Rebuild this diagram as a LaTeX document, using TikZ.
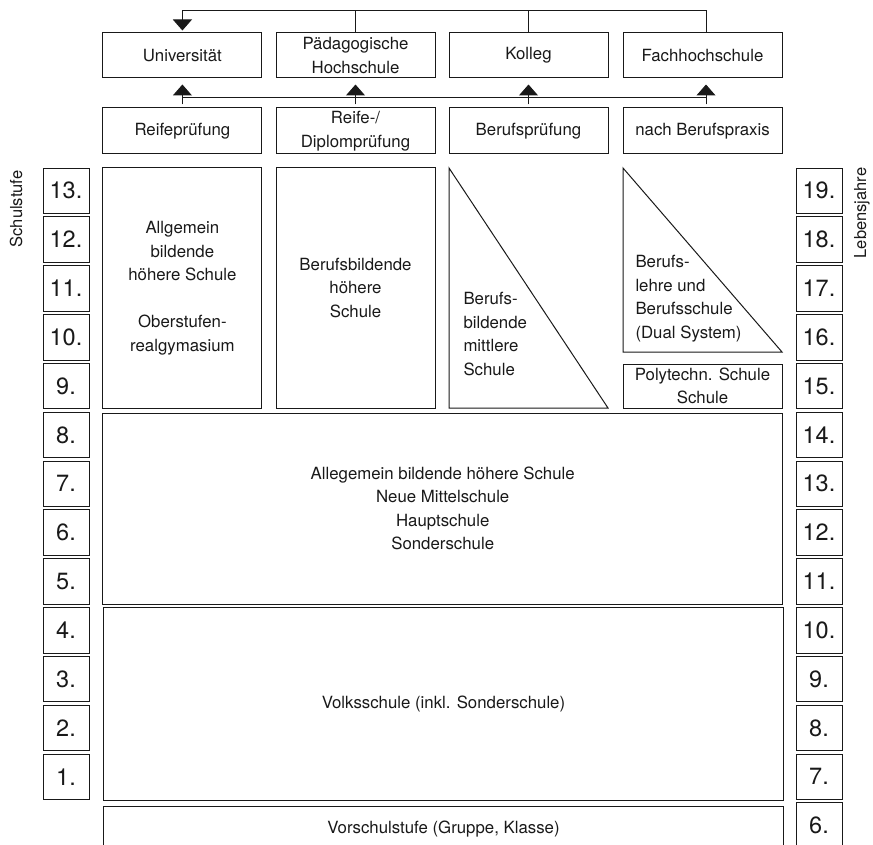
\documentclass[tikz,border=0pt]{standalone}
\usepackage{fontspec}
\setmainfont{TeX Gyre Heros}
\usetikzlibrary{arrows.meta}

\tikzset{kasten/.style = {draw, minimum width = 159pt, minimum height = 45pt,
                          align = center, inner sep = 0pt},
         nummer/.style = {draw, minimum width = 46pt, minimum height = 45.5pt,
                          inner sep = 0pt, font = \fontsize{23.5}{26}\selectfont},
         pfeil/.style = {-{Triangle[width = 19pt, length = 11pt]}}
        }

\begin{document}
\begin{tikzpicture}[x = 1pt, y = -1pt, line width = 1pt, color = black!90,
                    font = \fontsize{16.8}{23.5}\selectfont]
  \useasboundingbox (0, 0) rectangle (873, 845);
  % Hochschulen und Abschluesse
  \node[kasten] (uni) at (182.4, 55.5) {Universität};
  \node[kasten] (pha) at (355.5, 55.5) {Pädagogische\\Hochschule};
  \node[kasten] (kolleg) at (528.5, 55.5) {Kolleg};
  \node[kasten] (fhs) at (702.5, 55.5) {Fachhochschule};
  \node[kasten, minimum height = 46pt] (reife) at (182.4, 131) {Reifeprüfung};
  \node[kasten, minimum height = 46pt] (diplom) at (355.5, 131) {Reife-/\\Diplomprüfung};
  \node[kasten, minimum height = 46pt] (berufpr) at (528.5, 131) {Berufsprüfung};
  \node[kasten, minimum height = 46pt] (praxis) at (702.5, 131) {nach Berufspraxis};
  \coordinate (oben) at (0, 11);
  \coordinate (mitte) at (0, 98);
  \draw[pfeil] ([xshift = 3.5pt]fhs.north) |- (oben -| uni.north) -- ([yshift = 2pt]uni.north);
  \draw (pha.north) -- (pha.north |- oben);
  \draw (kolleg.north) -- (kolleg.north |- oben);
  \draw (reife.north |- mitte) -- ([xshift = 3.5pt]praxis.north |- mitte);
  \foreach \von/\nach in {reife/uni, diplom/pha, berufpr/kolleg}
      {\draw[pfeil] ([yshift = 3pt]\von.north) -- ([yshift = -6pt]\nach.south);};
  \draw[pfeil] ([xshift = 3.5pt, yshift = 3pt]praxis.north) -- ([xshift = 3.5pt, yshift = -6pt]fhs.south);
  % Oberstufe
  \node[kasten, minimum height = 240pt] (ahs) at (182.4, 288)
      {Allgemein\\bildende\\höhere Schule\\[23.5pt]Oberstufen-\\realgymasium};
  \node[kasten, minimum height = 240pt] (bhs) at (355.5, 288)
      {Berufsbildende\\höhere\\Schule};
  \draw (449, 168) -- (449, 408) -- (608, 408) -- cycle;
  \node[align = left, anchor = west, inner sep = 0pt] (bms) at (463, 334)
      {Berufs-\\bildende\\mittlere\\Schule};
  \draw (623, 168) -- (623, 352) -- (782, 352) -- cycle;
  \node[align = left, anchor = west, inner sep = 0pt] (lehre) at (635, 298.5)
      {Berufs-\\lehre und\\Berufsschule\\(Dual System)};
  \node[kasten, minimum height = 44pt] (poly) at (702.5, 386) {Polytechn. Schule\\Schule};
  % Unterstufe und Volksschule
  \node[kasten, minimum width = 680pt, minimum height = 191pt] (sek) at (442.7, 508.5)
      {Allegemein bildende höhere Schule\\Neue Mittelschule\\Hauptschule\\Sonderschule};
  \node[kasten, minimum width = 680pt, minimum height = 192.5pt] (vs) at (443.5, 704.2)
      {Volksschule (inkl. Sonderschule)};
  \node[kasten, minimum width = 680pt, minimum height = 47pt] (vor) at (443.5, 829.5)
      {Vorschulstufe (Gruppe, Klasse)};
  % Schulstufen und Lebensjahre
  \foreach \n in {1,...,13}
      {\node[nummer] (stufe\n) at (66, {776.75 - (\n - 1)*48.83}) {\n.};};
  \foreach \n in {6,...,19}
      {\node[nummer] (alter\n) at (819, {776.75 - (\n - 7)*48.83}) {\n.};};
  \node[rotate = 90, font = \fontsize{16.5}{19}\selectfont] (schulstufe) at (16, 209) {Schulstufe};
  \node[rotate = 90, font = \fontsize{16.5}{19}\selectfont] (lebensjahre) at (862, 213) {Lebensjahre};
\end{tikzpicture}
\end{document}
